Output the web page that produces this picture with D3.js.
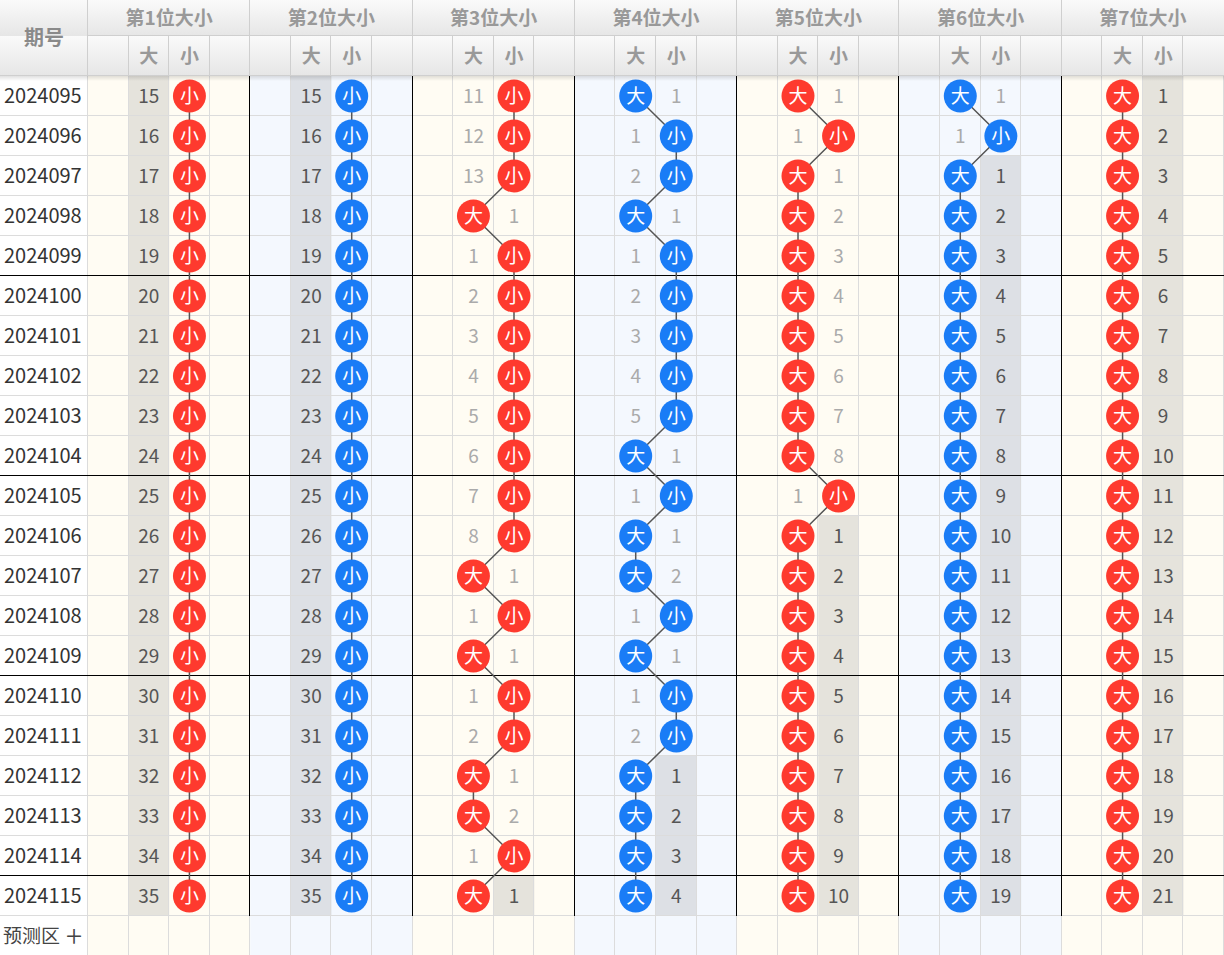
<!DOCTYPE html>
<html><head><meta charset="utf-8">
<script src="https://cdn.jsdelivr.net/npm/d3@7"></script>
<style>
html,body{margin:0;padding:0;background:#fff;}
svg{display:block;}
text{font-family:"Noto Sans CJK SC","Noto Sans",sans-serif;}
</style></head>
<body>
<div id="chart"></div>
<script>
// ---- data ----
const periods = ["2024095","2024096","2024097","2024098","2024099","2024100","2024101","2024102","2024103","2024104","2024105","2024106","2024107","2024108","2024109","2024110","2024111","2024112","2024113","2024114","2024115"];
const groupTitles = ["第1位大小","第2位大小","第3位大小","第4位大小","第5位大小","第6位大小","第7位大小"];
const subLabels = ["大","小"];
// result per period for each position (大 / 小)
const pos1 = ["小","小","小","小","小","小","小","小","小","小","小","小","小","小","小","小","小","小","小","小","小"];
const pos2 = ["小","小","小","小","小","小","小","小","小","小","小","小","小","小","小","小","小","小","小","小","小"];
const pos3 = ["小","小","小","大","小","小","小","小","小","小","小","小","大","小","大","小","小","大","大","小","大"];
const pos4 = ["大","小","小","大","小","小","小","小","小","大","小","大","大","小","大","小","小","大","大","大","大"];
const pos5 = ["大","小","大","大","大","大","大","大","大","大","小","大","大","大","大","大","大","大","大","大","大"];
const pos6 = ["大","小","大","大","大","大","大","大","大","大","大","大","大","大","大","大","大","大","大","大","大"];
const pos7 = ["大","大","大","大","大","大","大","大","大","大","大","大","大","大","大","大","大","大","大","大","大"];
// omission counts carried in before the first shown period: [大, 小]
const startMiss = [[14,0],[14,0],[10,0],[0,0],[0,0],[0,0],[0,0]];
const ballColors = ["#fe3a2e","#1a7cf6","#fe3a2e","#1a7cf6","#fe3a2e","#1a7cf6","#fe3a2e"];
const groupBg = ["#fffcf3","#f4f8fe","#fffcf3","#f4f8fe","#fffcf3","#f4f8fe","#fffcf3"];
const shadeBg = ["#e5e3dc","#dde0e5","#e5e3dc","#dde0e5","#e5e3dc","#dde0e5","#e5e3dc"];
const positions = [pos1,pos2,pos3,pos4,pos5,pos6,pos7];

// ---- layout ----
const W = 1224, H = 955;
const periodW = 88, head1 = 36, headH = 76, rowH = 40;
const nG = positions.length, nR = periods.length;
const x = d3.scaleBand().domain(d3.range(nG*4)).range([periodW, W]);
const y = d3.scaleBand().domain(d3.range(nR+1)).range([headH, headH + rowH*(nR+1)]);
const gx = d3.scaleBand().domain(d3.range(nG)).range([periodW, W]);

const svg = d3.select("#chart").append("svg").attr("width", W).attr("height", H);
const defs = svg.append("defs");
const hg = defs.append("linearGradient").attr("id","hg").attr("x1",0).attr("y1",0).attr("x2",0).attr("y2",1);
hg.append("stop").attr("offset","0%").attr("stop-color","#fafafa");
hg.append("stop").attr("offset","100%").attr("stop-color","#e6e6e6");
const sg = defs.append("linearGradient").attr("id","sg").attr("x1",0).attr("y1",0).attr("x2",0).attr("y2",1);
sg.append("stop").attr("offset","0%").attr("stop-color","#000").attr("stop-opacity",0.12);
sg.append("stop").attr("offset","100%").attr("stop-color","#000").attr("stop-opacity",0);

// compute hits / misses
const model = positions.map((seq, g) => {
  const miss = [startMiss[g][0], startMiss[g][1]];
  const rows = seq.map((r, i) => {
    const hit = subLabels.indexOf(r);
    miss[0] = hit === 0 ? 0 : miss[0] + 1;
    miss[1] = hit === 1 ? 0 : miss[1] + 1;
    return {i, hit, miss: [miss[0], miss[1]]};
  });
  const lastHit = [0,1].map(c => { let l = -1; rows.forEach(r => { if (r.hit === c) l = r.i; }); return l; });
  return {rows, lastHit};
});

// backgrounds
svg.append("rect").attr("x",0).attr("y",headH).attr("width",periodW).attr("height",H-headH).attr("fill","#fff");
d3.range(nG).forEach(g => {
  svg.append("rect").attr("x",gx(g)).attr("y",headH).attr("width",gx.bandwidth()).attr("height",H-headH).attr("fill",groupBg[g]);
});
// shaded trailing omission cells
model.forEach((m, g) => {
  m.rows.forEach(r => {
    [0,1].forEach(c => {
      if (r.hit !== c && r.i > m.lastHit[c]) {
        svg.append("rect").attr("x", x(g*4+1+c)).attr("y", y(r.i)).attr("width", x.bandwidth()).attr("height", rowH).attr("fill", shadeBg[g]);
      }
    });
  });
});

// grid lines (light)
const grid = svg.append("g").attr("stroke","#dcdcdc").attr("stroke-width",1).attr("shape-rendering","crispEdges");
d3.range(nR+1).forEach(i => {
  grid.append("line").attr("x1",0).attr("x2",W).attr("y1",y(i)+rowH-0.5).attr("y2",y(i)+rowH-0.5);
});
d3.range(nG*4+1).forEach(k => {
  const xx = k === nG*4 ? W : x(k);
  grid.append("line").attr("x1",Math.round(xx)-0.5).attr("x2",Math.round(xx)-0.5).attr("y1",headH).attr("y2",H);
});
grid.append("line").attr("x1",periodW-0.5).attr("x2",periodW-0.5).attr("y1",headH).attr("y2",H);

// heavy separators
const heavy = svg.append("g").attr("stroke","#000").attr("stroke-width",1.3).attr("shape-rendering","crispEdges");
d3.range(1,nG).forEach(g => {
  heavy.append("line").attr("x1",Math.round(gx(g))-0.5).attr("x2",Math.round(gx(g))-0.5).attr("y1",headH).attr("y2",y(nR));
});
d3.range(5, nR, 5).forEach(i => {
  heavy.append("line").attr("x1",0).attr("x2",W).attr("y1",y(i)-0.5).attr("y2",y(i)-0.5);
});

// period labels
svg.append("g").selectAll("text").data(periods).join("text")
  .attr("x",4).attr("y",(d,i)=>y(i)+rowH/2).attr("dy","0.36em")
  .attr("font-size",20).attr("fill","#333").text(d=>d);
svg.append("text").attr("x",3).attr("y",y(nR)+rowH/2).attr("dy","0.36em")
  .attr("font-size",19).attr("fill","#444").text("预测区");
svg.append("text").attr("x",74).attr("y",y(nR)+rowH/2).attr("dy","0.36em").attr("text-anchor","middle")
  .attr("font-size",30).attr("font-weight",300).attr("fill","#444").text("+");

// omission numbers
model.forEach((m, g) => {
  m.rows.forEach(r => {
    [0,1].forEach(c => {
      if (r.hit === c) return;
      const shaded = r.i > m.lastHit[c];
      svg.append("text").attr("x", x(g*4+1+c)+x.bandwidth()/2).attr("y", y(r.i)+rowH/2).attr("dy","0.36em")
        .attr("text-anchor","middle").attr("font-size",19)
        .attr("fill", shaded ? "#555" : "#aaa").text(r.miss[c]);
    });
  });
});

// connecting lines + balls
const cx = (g, c) => x(g*4+1+c) + x.bandwidth()/2;
const cy = i => y(i) + rowH/2;
model.forEach((m, g) => {
  const line = d3.line().x(r => cx(g, r.hit)).y(r => cy(r.i));
  svg.append("path").attr("d", line(m.rows)).attr("fill","none").attr("stroke","#555").attr("stroke-width",1.5);
});
model.forEach((m, g) => {
  const gg = svg.append("g");
  m.rows.forEach(r => {
    gg.append("circle").attr("cx",cx(g,r.hit)).attr("cy",cy(r.i)).attr("r",16.5).attr("fill",ballColors[g]);
    gg.append("text").attr("x",cx(g,r.hit)).attr("y",cy(r.i)).attr("dy","0.36em").attr("text-anchor","middle")
      .attr("font-size",19).attr("fill","#fff").text(subLabels[r.hit]);
  });
});

// header
svg.append("rect").attr("x",0).attr("y",0).attr("width",W).attr("height",head1).attr("fill","url(#hg)");
svg.append("rect").attr("x",periodW).attr("y",head1).attr("width",W-periodW).attr("height",headH-head1).attr("fill","url(#hg)");
svg.append("rect").attr("x",0).attr("y",head1).attr("width",periodW).attr("height",headH-head1).attr("fill","url(#hg)");
svg.append("rect").attr("x",0).attr("y",headH).attr("width",W).attr("height",5).attr("fill","url(#sg)");
const hl = svg.append("g").attr("stroke","#cfcfcf").attr("stroke-width",1).attr("shape-rendering","crispEdges");
hl.append("line").attr("x1",periodW).attr("x2",W).attr("y1",head1-0.5).attr("y2",head1-0.5);
hl.append("line").attr("x1",0).attr("x2",W).attr("y1",headH-0.5).attr("y2",headH-0.5);
hl.append("line").attr("x1",periodW-0.5).attr("x2",periodW-0.5).attr("y1",0).attr("y2",headH);
d3.range(1,nG).forEach(g => hl.append("line").attr("x1",Math.round(gx(g))-0.5).attr("x2",Math.round(gx(g))-0.5).attr("y1",0).attr("y2",headH));
d3.range(nG*4).forEach(k => { if (k%4) hl.append("line").attr("x1",Math.round(x(k))-0.5).attr("x2",Math.round(x(k))-0.5).attr("y1",head1).attr("y2",headH); });

svg.append("text").attr("x",periodW/2).attr("y",headH/2).attr("dy","0.36em").attr("text-anchor","middle")
  .attr("font-size",20).attr("font-weight","bold").attr("fill","#8a8a8a").text("期号");
svg.append("g").selectAll("text").data(groupTitles).join("text")
  .attr("x",(d,g)=>gx(g)+gx.bandwidth()/2).attr("y",head1/2).attr("dy","0.36em").attr("text-anchor","middle")
  .attr("font-size",19).attr("font-weight","bold").attr("fill","#999").text(d=>d);
d3.range(nG).forEach(g => {
  subLabels.forEach((s,c) => {
    svg.append("text").attr("x",x(g*4+1+c)+x.bandwidth()/2).attr("y",head1+(headH-head1)/2).attr("dy","0.36em")
      .attr("text-anchor","middle").attr("font-size",19).attr("font-weight","bold").attr("fill","#999").text(s);
  });
});
</script>
</body></html>
